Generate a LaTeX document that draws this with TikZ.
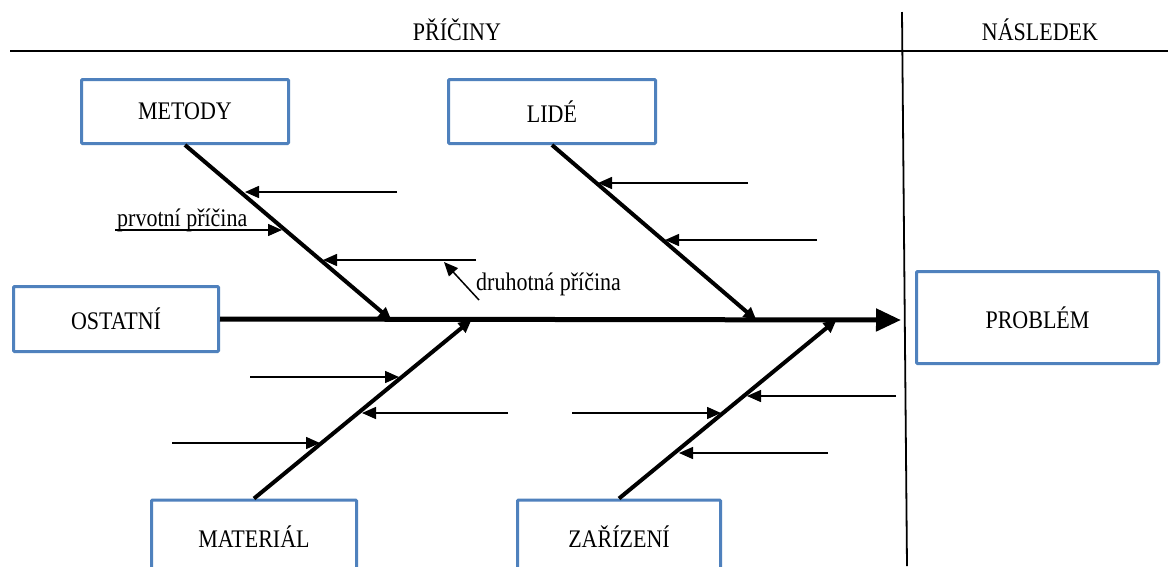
\documentclass[tikz,border=0pt]{standalone}
\usepackage{fontspec}
\setmainfont{Liberation Serif}
\usetikzlibrary{arrows.meta}
\definecolor{boxblue}{HTML}{4F81BD}
% text set a little taller than wide
\newcommand{\tallt}[1]{\scalebox{1}[1.15]{#1}}
\tikzset{
  cause/.style={draw=boxblue, line width=3pt, rounded corners=1pt, fill=white,
    inner sep=0pt, font=\fontsize{22}{26}\selectfont},
  label/.style={font=\fontsize{22}{26}\selectfont, inner sep=0pt},
  spine/.style={line width=5pt, -{Triangle[length=25pt,width=22pt]}},
  bone/.style={line width=4pt, -{Triangle[length=13pt,width=12pt]}, shorten >=-2pt},
  sub/.style={line width=1.5pt, -{Triangle[length=14pt,width=12pt]}},
  rule/.style={line width=1.8pt}
}
\begin{document}
\begin{tikzpicture}[x=1pt,y=-1pt]
\useasboundingbox (0,0) rectangle (1168,566);
\fill[white] (0,0) rectangle (1168,566);

% frame: header line and divider
\coordinate (hl) at (10,51);
\coordinate (hr) at (1168,51);
\coordinate (vt) at (902,12);
\coordinate (vb) at (907,566);
\draw[rule] (hl) -- (hr);
\draw[rule] (vt) -- (vb);
\node[label] (pricin) at (457,30) {\tallt{PŘÍČINY}};
\node[label] (nasl) at (1040,30) {\tallt{NÁSLEDEK}};

% category boxes
\node[cause, minimum width=207pt, minimum height=64pt] (metody) at (185,111.5) {\tallt{METODY}};
\node[cause, minimum width=207pt, minimum height=64pt] (lide) at (552,111.5) {\tallt{LIDÉ}};
\node[cause, minimum width=205pt, minimum height=65pt] (ostatni) at (116,319) {\tallt{OSTATNÍ}};
\node[cause, minimum width=242pt, minimum height=92pt] (problem) at (1037.5,317.5) {\tallt{PROBLÉM}};
\node[cause, minimum width=205pt, minimum height=74pt] (material) at (254,537) {\tallt{MATERIÁL}};
\node[cause, minimum width=203pt, minimum height=74pt] (zarizeni) at (619,537) {\tallt{ZAŘÍZENÍ}};

% main spine
\coordinate (head) at (901,320);
\draw[spine] (ostatni.east) -- (head);

% bones meeting the spine
\coordinate (mEnd) at (390,319);
\coordinate (lEnd) at (755,319);
\coordinate (tEnd) at (470,321);
\coordinate (zEnd) at (835,321);
\draw[bone] (metody.south) -- (mEnd);
\draw[bone] (lide.south) -- (lEnd);
\draw[bone] (material.north) -- (tEnd);
\draw[bone] (zarizeni.north) -- (zEnd);

% sub-causes on METODY
\coordinate (m1a) at (397,192); \coordinate (m1b) at (245,192);
\coordinate (m2a) at (115,230); \coordinate (m2b) at (282,230);
\coordinate (m3a) at (476,260); \coordinate (m3b) at (323,260);
\draw[sub] (m1a) -- (m1b);
\draw[sub] (m2a) -- (m2b);
\draw[sub] (m3a) -- (m3b);
\node[label, anchor=base west] (prvotni) at (117,226) {\tallt{prvotní příčina}};
\coordinate (d1) at (479,300); \coordinate (d2) at (444,262);
\draw[sub] (d1) -- (d2);
\node[label, anchor=west] (druhotna) at (476,284) {\tallt{druhotná příčina}};

% sub-causes on LIDÉ
\coordinate (l1a) at (748,183); \coordinate (l1b) at (598,183);
\coordinate (l2a) at (817,240); \coordinate (l2b) at (665,240);
\draw[sub] (l1a) -- (l1b);
\draw[sub] (l2a) -- (l2b);

% sub-causes on MATERIÁL
\coordinate (t1a) at (250,377); \coordinate (t1b) at (399,377);
\coordinate (t2a) at (508,413); \coordinate (t2b) at (362,413);
\coordinate (t3a) at (172,443); \coordinate (t3b) at (320,443);
\draw[sub] (t1a) -- (t1b);
\draw[sub] (t2a) -- (t2b);
\draw[sub] (t3a) -- (t3b);

% sub-causes on ZAŘÍZENÍ
\coordinate (z1a) at (896,396); \coordinate (z1b) at (747,396);
\coordinate (z2a) at (572,413); \coordinate (z2b) at (721,413);
\coordinate (z3a) at (828,453); \coordinate (z3b) at (679,453);
\draw[sub] (z1a) -- (z1b);
\draw[sub] (z2a) -- (z2b);
\draw[sub] (z3a) -- (z3b);
\end{tikzpicture}
\end{document}
